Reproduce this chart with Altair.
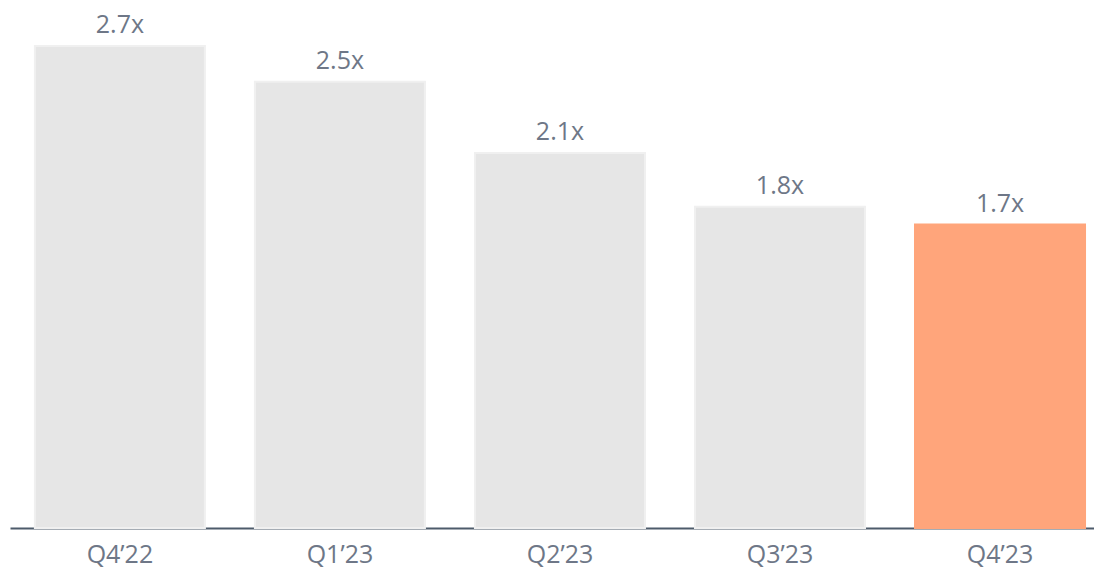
import altair as alt
import pandas as pd

quarters = ["Q4’22", "Q1’23", "Q2’23", "Q3’23", "Q4’23"]
values = [2.7, 2.5, 2.1, 1.8, 1.7]
labels = ["2.7x", "2.5x", "2.1x", "1.8x", "1.7x"]
highlight = [False, False, False, False, True]

df = pd.DataFrame({"q": quarters, "v": values, "lab": labels, "hl": highlight})

x = alt.X("q:N", sort=quarters, title=None,
          scale=alt.Scale(paddingInner=0.2273, paddingOuter=0.077, align=0.735),
          axis=alt.Axis(labelAngle=0, ticks=False, domainColor="#4d5b6b", domainWidth=2,
                        labelFont="Open Sans", labelFontSize=25, labelColor="#6e7787",
                        labelPadding=14))
y = alt.Y("v:Q", scale=alt.Scale(domain=[0, 2.7], nice=False, zero=True), axis=None)

bars = alt.Chart(df).mark_bar(strokeWidth=2).encode(
    x=x, y=y,
    color=alt.Color("hl:N", scale=alt.Scale(domain=[False, True], range=["#e6e6e6", "#ffa57b"]), legend=None),
    stroke=alt.Stroke("hl:N", scale=alt.Scale(domain=[False, True], range=["#f0f0f0", "#ffa57b"]), legend=None),
)

text = alt.Chart(df).mark_text(baseline="bottom", dy=-8, font="Open Sans", fontSize=25,
                               color="#6e7787").encode(x=alt.X("q:N", sort=quarters), y="v:Q", text="lab:N")

chart = (bars + text).properties(
    width=1084, height=482,
    padding={"left": 2, "top": 5, "right": 0, "bottom": 4},
).configure_view(stroke=None)

chart.save("out.html", embed_options={"renderer": "svg", "actions": False})
